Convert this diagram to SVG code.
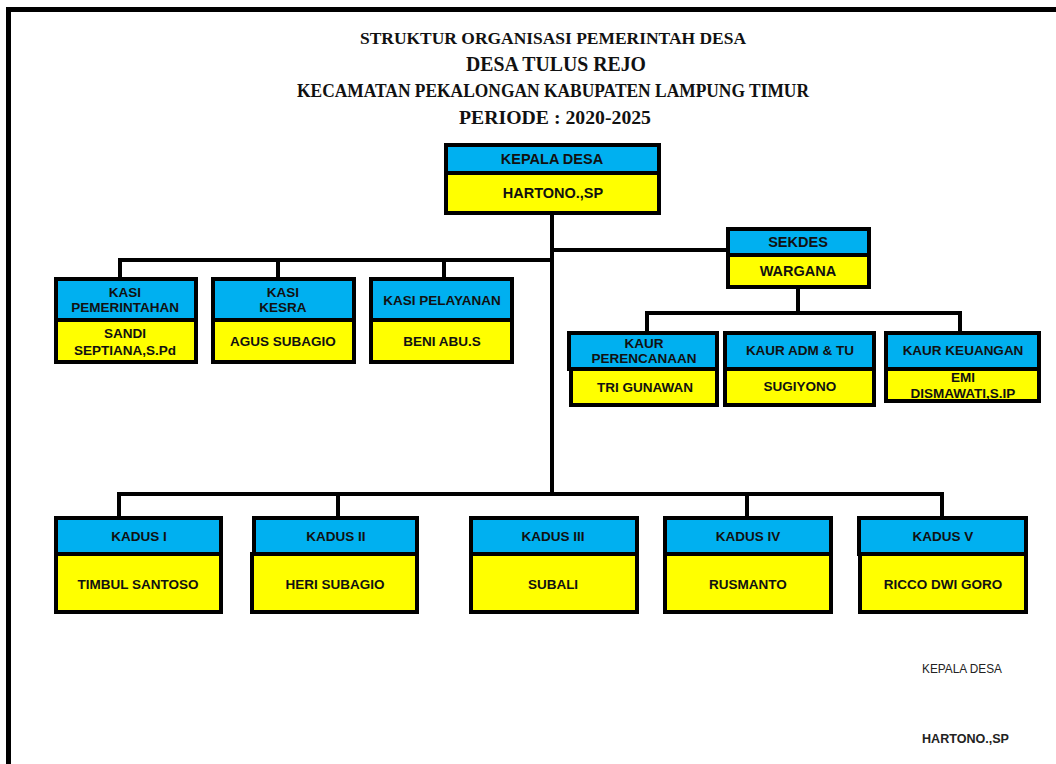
<svg xmlns="http://www.w3.org/2000/svg" width="1056" height="764" viewBox="0 0 1056 764">
<style>
.hd{fill:#00B0F0;stroke:#000;stroke-width:4}
.bd{fill:#FFFF00;stroke:#000;stroke-width:4}
.t{font-family:"Liberation Sans",Arial,sans-serif;font-weight:bold;font-size:13.5px;fill:#111;text-anchor:middle;dominant-baseline:central}
.tl{font-size:14.5px}
.ti{font-family:"Liberation Serif","Times New Roman",serif;font-weight:bold;fill:#111;text-anchor:middle}
.cn{fill:none;stroke:#000;stroke-width:4;stroke-linejoin:miter}
.sg{font-family:"Liberation Sans",Arial,sans-serif;font-size:12px;fill:#222}
</style>
<rect x="0" y="0" width="1056" height="764" fill="#fff"/>
<path d="M8.5,764 V9.5 H1056" fill="none" stroke="#000" stroke-width="5"/>
<g id="title">
<text class="ti" x="553" y="44" font-size="17" textLength="386" lengthAdjust="spacingAndGlyphs">STRUKTUR ORGANISASI PEMERINTAH DESA</text>
<text class="ti" x="556" y="71" font-size="21" textLength="180" lengthAdjust="spacingAndGlyphs">DESA TULUS REJO</text>
<text class="ti" x="553" y="97" font-size="18" textLength="512" lengthAdjust="spacingAndGlyphs">KECAMATAN PEKALONGAN KABUPATEN LAMPUNG TIMUR</text>
<text class="ti" x="555" y="124" font-size="18" textLength="192" lengthAdjust="spacingAndGlyphs">PERIODE : 2020-2025</text>
</g>
<g id="connectors">
<path class="cn" d="M552,213 V495"/>
<path class="cn" d="M552,250 H727"/>
<path class="cn" d="M552,260 H120 V278"/>
<path class="cn" d="M278,260 V278"/>
<path class="cn" d="M444,260 V278"/>
<path class="cn" d="M798,288 V313"/>
<path class="cn" d="M647,332 V313 H960 V332"/>
<path class="cn" d="M119,517 V494 H942 V517"/>
<path class="cn" d="M338,494 V517"/>
<path class="cn" d="M747,494 V517"/>
</g>
<g id="kepala-desa">
<rect class="hd" x="446" y="145" width="213" height="28"/>
<rect class="bd" x="446" y="173" width="213" height="40"/>
<text class="t tl" x="552" y="159">KEPALA DESA</text>
<text class="t tl" x="553" y="193">HARTONO.,SP</text>
</g>
<g id="sekdes">
<rect class="hd" x="728" y="229" width="141" height="26"/>
<rect class="bd" x="728" y="255" width="141" height="32"/>
<text class="t tl" x="798" y="242">SEKDES</text>
<text class="t tl" x="798" y="271">WARGANA</text>
</g>
<g id="kasi-pemerintahan">
<rect class="hd" x="56" y="279" width="140" height="41"/>
<rect class="bd" x="56" y="320" width="140" height="42"/>
<text class="t" x="125" y="292">KASI</text>
<text class="t" x="125" y="307">PEMERINTAHAN</text>
<text class="t" x="125" y="333">SANDI</text>
<text class="t" x="125" y="350">SEPTIANA,S.Pd</text>
</g>
<g id="kasi-kesra">
<rect class="hd" x="213" y="279" width="141" height="41"/>
<rect class="bd" x="213" y="320" width="141" height="42"/>
<text class="t" x="283" y="292">KASI</text>
<text class="t" x="283" y="307">KESRA</text>
<text class="t" x="283" y="341">AGUS SUBAGIO</text>
</g>
<g id="kasi-pelayanan">
<rect class="hd" x="371" y="279" width="141" height="41"/>
<rect class="bd" x="371" y="320" width="141" height="42"/>
<text class="t" x="442" y="300">KASI PELAYANAN</text>
<text class="t" x="442" y="341">BENI ABU.S</text>
</g>
<g id="kaur-perencanaan">
<rect class="hd" x="569" y="333" width="148" height="36"/>
<rect class="bd" x="571" y="369" width="146" height="36"/>
<text class="t" x="644" y="343">KAUR</text>
<text class="t" x="644" y="358">PERENCANAAN</text>
<text class="t" x="645" y="387">TRI GUNAWAN</text>
</g>
<g id="kaur-adm-tu">
<rect class="hd" x="725" y="333" width="149" height="36"/>
<rect class="bd" x="725" y="369" width="149" height="36"/>
<text class="t" x="800" y="350">KAUR ADM &amp; TU</text>
<text class="t" x="800" y="386">SUGIYONO</text>
</g>
<g id="kaur-keuangan">
<rect class="hd" x="886" y="333" width="153" height="36"/>
<rect class="bd" x="886" y="369" width="153" height="32"/>
<text class="t" x="963" y="350">KAUR KEUANGAN</text>
<text class="t" x="963" y="377">EMI</text>
<text class="t" x="963" y="393">DISMAWATI,S.IP</text>
</g>
<g id="kadus-1">
<rect class="hd" x="56" y="518" width="165" height="36"/>
<rect class="bd" x="56" y="554" width="165" height="58"/>
<text class="t" x="139" y="536">KADUS I</text>
<text class="t" x="138" y="584">TIMBUL SANTOSO</text>
</g>
<g id="kadus-2">
<rect class="hd" x="254" y="518" width="163" height="36"/>
<rect class="bd" x="252" y="554" width="165" height="58"/>
<text class="t" x="336" y="536">KADUS II</text>
<text class="t" x="335" y="584">HERI SUBAGIO</text>
</g>
<g id="kadus-3">
<rect class="hd" x="471" y="518" width="166" height="36"/>
<rect class="bd" x="471" y="554" width="166" height="58"/>
<text class="t" x="553" y="536">KADUS III</text>
<text class="t" x="553" y="584">SUBALI</text>
</g>
<g id="kadus-4">
<rect class="hd" x="665" y="518" width="166" height="36"/>
<rect class="bd" x="665" y="554" width="166" height="58"/>
<text class="t" x="748" y="536">KADUS IV</text>
<text class="t" x="748" y="584">RUSMANTO</text>
</g>
<g id="kadus-5">
<rect class="hd" x="859" y="518" width="167" height="36"/>
<rect class="bd" x="860" y="554" width="166" height="58"/>
<text class="t" x="943" y="536">KADUS V</text>
<text class="t" x="943" y="584">RICCO DWI GORO</text>
</g>
<g id="signature">
<text class="sg" x="922" y="673" textLength="80" lengthAdjust="spacingAndGlyphs">KEPALA DESA</text>
<text class="sg" x="922" y="743" font-weight="bold" textLength="87" lengthAdjust="spacingAndGlyphs">HARTONO.,SP</text>
</g>
</svg>
